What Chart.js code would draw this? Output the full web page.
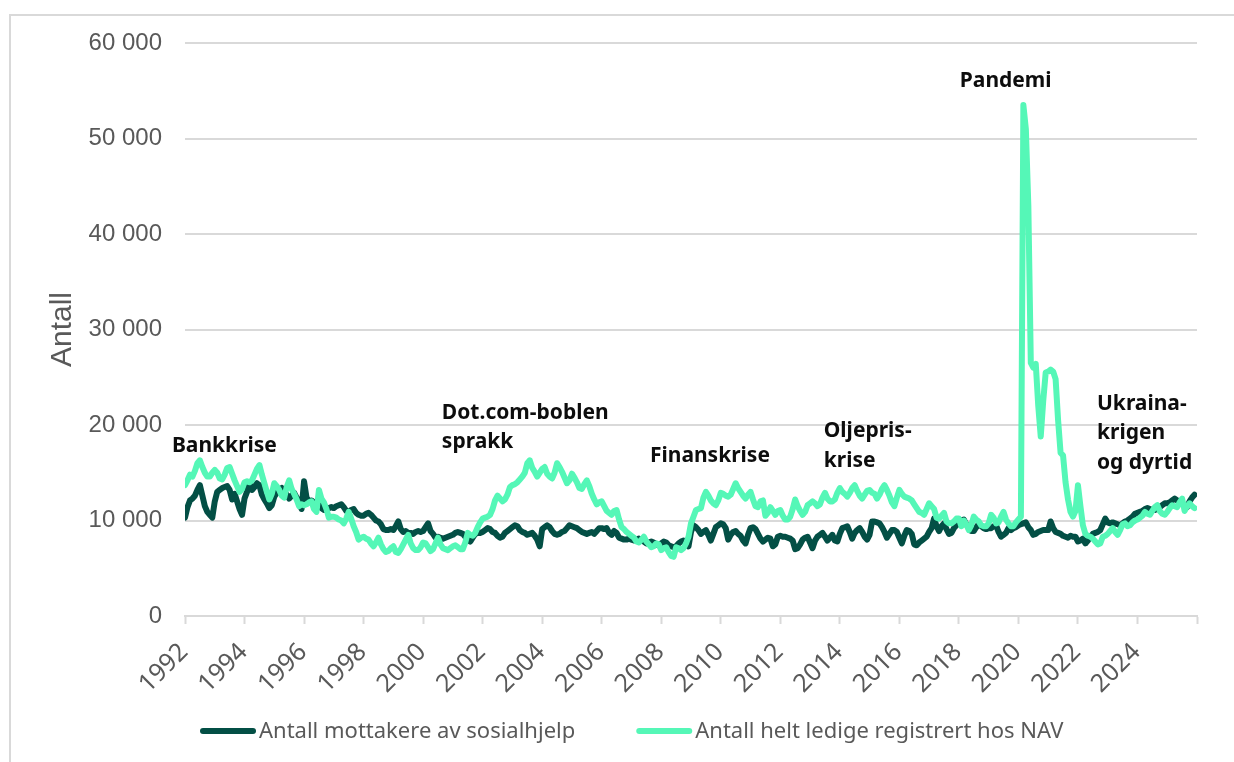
<!DOCTYPE html>
<html>
<head>
<meta charset="utf-8">
<script src="https://cdn.jsdelivr.net/npm/chart.js@4.4.1/dist/chart.umd.min.js"></script>
<style>
  html, body { margin: 0; padding: 0; background: #fff; }
  #wrap { position: relative; width: 1234px; height: 762px; overflow: hidden; }
  #frame { position: absolute; left: 9px; top: 14px; width: 1240px; height: 760px;
           border-left: 2px solid #d9d9d9; border-top: 2px solid #d9d9d9; }
  canvas { position: absolute; left: 0; top: 0; }
</style>
</head>
<body>
<div id="wrap">
  <div id="frame"></div>
  <canvas id="chart" width="1234" height="762"></canvas>
</div>
<script>
// monthly values, Jan 1992 - Dec 2025 (one row per year)
var startYear = 1992;

var sosialhjelp = [
  10300, 11400, 12100, 12300, 12600, 13200, 13700, 12600, 11500, 10900, 10600, 10300, // 1992
  12000, 13000, 13200, 13400, 13500, 13600, 13200, 12200, 12800, 12000, 11200, 10600, // 1993
  12300, 13000, 13900, 13200, 13500, 13900, 13700, 12700, 12200, 11800, 11300, 11600, // 1994
  12500, 12900, 13200, 13400, 13000, 12700, 12300, 12600, 12900, 12400, 12000, 11200, // 1995
  14100, 12400, 12000, 12100, 11900, 11600, 11700, 11300, 11100, 11200, 11300, 11400, // 1996
  11300, 11500, 11600, 11700, 11400, 11000, 10900, 11100, 11200, 10800, 10600, 10500, // 1997
  10500, 10700, 10800, 10600, 10300, 10000, 9900, 9600, 9100, 9000, 9000, 9100,       // 1998
  9000, 9400, 9900, 9100, 8800, 8900, 8700, 8700, 8600, 8800, 8900, 8800,             // 1999
  8900, 9300, 9700, 8900, 8600, 8200, 8300, 8200, 8100, 8200, 8300, 8400,             // 2000
  8500, 8700, 8800, 8700, 8600, 8300, 8000, 7800, 8200, 8600, 8700, 8700,             // 2001
  8800, 9000, 9200, 9100, 8800, 8700, 8400, 8200, 8300, 8700, 8900, 9100,             // 2002
  9300, 9500, 9400, 9000, 8800, 8700, 8500, 8600, 8700, 8400, 8000, 7300,             // 2003
  9100, 9300, 9500, 9300, 8900, 8600, 8500, 8600, 8800, 8900, 9200, 9500,             // 2004
  9400, 9300, 9200, 9000, 8800, 8700, 8600, 8700, 8800, 8600, 8900, 9200,             // 2005
  9200, 9100, 9200, 8700, 8500, 8900, 8700, 8200, 8100, 8000, 8000, 8100,             // 2006
  8000, 7900, 8000, 8100, 7900, 7800, 7600, 7700, 7800, 7700, 7500, 7400,             // 2007
  7600, 7800, 7700, 7400, 7300, 7200, 7300, 7600, 7800, 7900, 7700, 7300,             // 2008
  8800, 9500, 9300, 9000, 8600, 8800, 9000, 8500, 7900, 8600, 9300, 9500,             // 2009
  9700, 9600, 9200, 8000, 8500, 8800, 8900, 8600, 8400, 7900, 7600, 8500,             // 2010
  9200, 9300, 9100, 8600, 8100, 7800, 8000, 8200, 8100, 7300, 7500, 8300,             // 2011
  8400, 8300, 8300, 8200, 8100, 7900, 7000, 7100, 7500, 8000, 8200, 8300,             // 2012
  7700, 7100, 7900, 8300, 8500, 8700, 8300, 7900, 8200, 8500, 7900, 7800,             // 2013
  8600, 9200, 9300, 9400, 8800, 8100, 8700, 9000, 9200, 8800, 8300, 8000,             // 2014
  8500, 9900, 9900, 9800, 9700, 9300, 8800, 8200, 8600, 9000, 9000, 8800,             // 2015
  8200, 7600, 8400, 9000, 8900, 8600, 7500, 7400, 7700, 7900, 8100, 8300,             // 2016
  8800, 9200, 10200, 9400, 8900, 9400, 9700, 9100, 8600, 8700, 9200, 9500,            // 2017
  9900, 10000, 10100, 9600, 9200, 8900, 8900, 9300, 9600, 9400, 9200, 9100,           // 2018
  9200, 9200, 9400, 9500, 8800, 8300, 8500, 8700, 9200, 9000, 9200, 9300,             // 2019
  9500, 9600, 9700, 9800, 9300, 9000, 8500, 8600, 8800, 8900, 9000, 9000,             // 2020
  9000, 9900, 9200, 8800, 8700, 8600, 8400, 8300, 8200, 8400, 8300, 8300,             // 2021
  7800, 7900, 8100, 7600, 7900, 8300, 8600, 8700, 8800, 9000, 9600, 10200,            // 2022
  9800, 9700, 9800, 9700, 9600, 9500, 9700, 9900, 10000, 10200, 10400, 10700,         // 2023
  10800, 10900, 11000, 11200, 11300, 11200, 11100, 11100, 11200, 11400, 11600, 11800, // 2024
  11800, 11900, 12100, 12300, 12100, 12000, 11800, 11600, 11400, 12000, 12400, 12700  // 2025
];

var ledige = [
  13700, 14200, 14800, 14600, 15200, 16000, 16300, 15600, 15000, 14600, 14600, 15000, // 1992
  15300, 15000, 14400, 14300, 14800, 15500, 15600, 14900, 14200, 13600, 13000, 13300, // 1993
  14000, 14100, 14000, 14200, 14800, 15400, 15800, 14800, 13900, 13000, 12200, 12800, // 1994
  13900, 13600, 13200, 12600, 12400, 13500, 14200, 13300, 12800, 12200, 11500, 11700, // 1995
  11600, 11700, 11900, 12000, 11200, 10900, 13200, 12300, 11900, 11200, 10300, 10400, // 1996
  10400, 10300, 10100, 10000, 9700, 10200, 10900, 10200, 9400, 8800, 8000, 8200,      // 1997
  8300, 8100, 8000, 7600, 7300, 7700, 8200, 7500, 7000, 6700, 6800, 7100,             // 1998
  7300, 6700, 6600, 7000, 7500, 8000, 8500, 7600, 7100, 6900, 6900, 7200,             // 1999
  7700, 7600, 7200, 6800, 7000, 7600, 8200, 7500, 7100, 7000, 6900, 7100,             // 2000
  7300, 7400, 7200, 7000, 7000, 7700, 8700, 8500, 8400, 8700, 9300, 9800,             // 2001
  10200, 10300, 10400, 10600, 11200, 12100, 12600, 12300, 12000, 12200, 12700, 13500, // 2002
  13700, 13800, 14000, 14300, 14600, 15000, 16000, 16300, 15500, 15100, 14600, 15000, // 2003
  15400, 15600, 14900, 14600, 14400, 15000, 16000, 15600, 15100, 14500, 13900, 14200, // 2004
  14900, 14500, 14000, 13400, 13300, 13800, 14200, 13600, 12800, 12200, 11700, 11900, // 2005
  12000, 11500, 11000, 10800, 10600, 11000, 11100, 10100, 9300, 9100, 8800, 8600,     // 2006
  8400, 8200, 7800, 7700, 8000, 8300, 7800, 7500, 7200, 7300, 7600, 7500,             // 2007
  6900, 7100, 7200, 6700, 6300, 6200, 7200, 7100, 6900, 7100, 7600, 8300,             // 2008
  9700, 10400, 11100, 11200, 11300, 12400, 13000, 12600, 12100, 11800, 11600, 12100,  // 2009
  12900, 12800, 12600, 12500, 12700, 13300, 13900, 13400, 13000, 12600, 12300, 12700, // 2010
  13000, 12200, 11500, 11400, 12000, 12100, 10500, 10800, 11400, 11000, 10600, 11000, // 2011
  11100, 10500, 10100, 10100, 10400, 11200, 12200, 11500, 11000, 10600, 10900, 11600, // 2012
  11800, 12000, 11800, 11500, 11700, 12400, 12900, 12300, 12000, 12000, 12200, 12900, // 2013
  13400, 13000, 12800, 12500, 12900, 13400, 13700, 13100, 12600, 12300, 12700, 13100, // 2014
  13200, 12900, 12800, 12300, 12700, 13300, 13700, 13200, 12600, 11900, 11500, 12400, // 2015
  13200, 12800, 12500, 12400, 12300, 12100, 11700, 11300, 10900, 10800, 10600, 11200, // 2016
  11800, 11500, 11200, 10300, 10200, 10500, 10800, 9900, 9700, 9700, 9900, 10200,     // 2017
  10200, 9400, 10000, 9600, 9000, 9500, 10400, 10100, 9900, 9500, 9400, 9400,         // 2018
  9700, 10600, 10300, 9700, 9800, 10400, 10900, 10100, 9700, 9400, 9400, 9800,        // 2019
  10100, 10400, 53500, 51000, 43000, 26500, 26000, 26400, 22000, 18800, 22500, 25500, // 2020
  25600, 25800, 25600, 24800, 20500, 17100, 16800, 14000, 12200, 10900, 10400, 11000, // 2021
  13700, 11500, 9500, 8600, 8400, 8300, 8100, 7800, 7500, 7600, 8300, 8400,           // 2022
  8600, 8900, 9200, 8800, 8500, 9000, 9600, 9700, 9400, 9500, 9800, 10000,            // 2023
  10100, 10300, 10500, 10900, 10700, 10600, 11000, 11400, 11600, 11000, 10700, 10600, // 2024
  10900, 11300, 11600, 11500, 11400, 11900, 12300, 11000, 11500, 11800, 11500, 11300  // 2025
];

var seriesNames = ["Antall mottakere av sosialhjelp", "Antall helt ledige registrert hos NAV"];
var seriesColors = ["#034f45", "#55f7b7"];

// event labels: first line placed at (year, value), further lines below
var events = [
  { lines: ["Bankkrise"], year: 1991.56, value: 17200 },
  { lines: ["Dot.com-boblen", "sprakk"], year: 2000.63, value: 20650 },
  { lines: ["Finanskrise"], year: 2007.62, value: 16100 },
  { lines: ["Oljepris-", "krise"], year: 2013.46, value: 18730 },
  { lines: ["Pandemi"], year: 2018.03, value: 55400 },
  { lines: ["Ukraina-", "krigen", "og dyrtid"], year: 2022.64, value: 21600 }
];

function toPoints(values) {
  return values.map(function (v, i) { return { x: startYear + i / 12, y: v }; });
}

var grey = "#d9d9d9";
var textGrey = "#595959";
var sansFont = '"Noto Sans", "Open Sans", sans-serif';

var eventLabels = {
  id: "eventLabels",
  afterDatasetsDraw: function (chart) {
    var ctx = chart.ctx, xs = chart.scales.x, ys = chart.scales.y;
    ctx.save();
    ctx.font = "bold 21px " + sansFont;
    ctx.fillStyle = "#0d0d0d";
    ctx.textBaseline = "alphabetic";
    ctx.textAlign = "left";
    events.forEach(function (e) {
      var x = xs.getPixelForValue(e.year);
      var y = ys.getPixelForValue(e.value);
      e.lines.forEach(function (line, i) {
        ctx.fillText(line, x, y + i * 29.5);
      });
    });
    ctx.restore();
  }
};

// rotated year labels under the tick marks
var yearLabels = {
  id: "yearLabels",
  afterDraw: function (chart) {
    var xs = chart.scales.x, ctx = chart.ctx;
    ctx.save();
    ctx.font = "25px " + sansFont;
    ctx.fillStyle = textGrey;
    ctx.textAlign = "right";
    ctx.textBaseline = "middle";
    xs.ticks.forEach(function (t) {
      if (t.value >= xs.max) return;
      ctx.save();
      ctx.translate(xs.getPixelForValue(t.value) - 1, xs.top + 32);
      ctx.rotate(-Math.PI / 4);
      ctx.fillText(String(t.value), 0, 0);
      ctx.restore();
    });
    ctx.restore();
  }
};

var bottomLegend = {
  id: "bottomLegend",
  afterDraw: function (chart) {
    var ctx = chart.ctx;
    var x = chart.chartArea.left + 18;
    var y = 731;
    ctx.save();
    ctx.font = "22px " + sansFont;
    ctx.textBaseline = "middle";
    chart.data.datasets.slice().sort(function (a, b) { return a.legendIndex - b.legendIndex; })
      .forEach(function (ds) {
        ctx.strokeStyle = ds.borderColor;
        ctx.lineWidth = 6;
        ctx.lineCap = "round";
        ctx.beginPath();
        ctx.moveTo(x, y);
        ctx.lineTo(x + 50, y);
        ctx.stroke();
        ctx.fillStyle = textGrey;
        ctx.fillText(ds.label, x + 56, y + 1);
        x += 56 + ctx.measureText(ds.label).width + 64;
      });
    ctx.restore();
  }
};

new Chart(document.getElementById("chart"), {
  type: "line",
  data: {
    datasets: [
      {
        label: seriesNames[0],
        legendIndex: 0,
        data: toPoints(sosialhjelp),
        borderColor: seriesColors[0],
        borderWidth: 6,
        borderJoinStyle: "round",
        borderCapStyle: "round",
        pointRadius: 0,
        order: 2
      },
      {
        label: seriesNames[1],
        legendIndex: 1,
        data: toPoints(ledige),
        borderColor: seriesColors[1],
        borderWidth: 6,
        borderJoinStyle: "round",
        borderCapStyle: "round",
        pointRadius: 0,
        order: 1
      }
    ]
  },
  options: {
    responsive: false,
    animation: false,
    layout: { padding: { left: 0, right: 37, top: 43, bottom: 76 } },
    plugins: {
      legend: { display: false },
      tooltip: { enabled: false }
    },
    scales: {
      x: {
        type: "linear",
        min: 1992,
        max: 2026,
        afterFit: function (scale) { scale.height = 70; },
        ticks: {
          stepSize: 2,
          autoSkip: false,
          display: false
        },
        grid: {
          drawOnChartArea: false,
          drawTicks: true,
          tickLength: 8,
          tickColor: grey,
          tickWidth: 2
        },
        border: { display: true, color: grey, width: 2 }
      },
      y: {
        min: 0,
        max: 60000,
        afterFit: function (scale) { scale.width = 185; },
        ticks: {
          stepSize: 10000,
          padding: 23,
          color: textGrey,
          font: { family: "Liberation Sans", size: 24 },
          callback: function (v) { return String(v).replace(/\B(?=(\d{3})+(?!\d))/g, " "); }
        },
        grid: { color: grey, lineWidth: 2, drawTicks: false },
        border: { display: false },
        title: {
          display: true,
          text: "Antall",
          color: textGrey,
          font: { family: "Liberation Sans", size: 30 },
          padding: { top: 45 }
        }
      }
    }
  },
  plugins: [eventLabels, yearLabels, bottomLegend]
});
</script>
</body>
</html>
